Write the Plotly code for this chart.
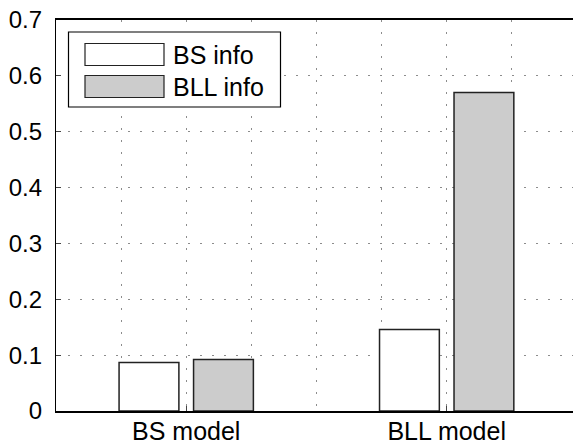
import plotly.graph_objects as go

# data
groups = [1, 2]
group_labels = ["BS model", "BLL model"]
bs_info = [0.087, 0.146]
bll_info = [0.092, 0.570]
y_ticks = [0, 0.1, 0.2, 0.3, 0.4, 0.5, 0.6, 0.7]

W, H = 573, 444
L, R, T, B = 56, 0, 20, 33


def px_x(p):
    return (p - L) / (W - L - R)


def px_y(p):
    return 1 - (p - T) / (H - T - B)


grid = dict(color="#8c8c8c", dash="2px,10px")

fig = go.Figure()
fig.add_trace(go.Bar(x=groups, y=bs_info, name="BS info",
                     marker=dict(color="white", line=dict(color="#222", width=1.5))))
fig.add_trace(go.Bar(x=groups, y=bll_info, name="BLL info",
                     marker=dict(color="#cccccc", line=dict(color="#222", width=1.5))))

# legend drawn by hand so the big MATLAB-style swatches fit
shapes = [
    dict(type="rect", xref="paper", yref="paper",
         x0=px_x(68.5), x1=px_x(280.5), y0=px_y(107), y1=px_y(32),
         line=dict(color="black", width=1.2), fillcolor="white", layer="above"),
    dict(type="rect", xref="paper", yref="paper",
         x0=px_x(85), x1=px_x(164), y0=px_y(65.5), y1=px_y(43.5),
         line=dict(color="#222", width=1.2), fillcolor="white", layer="above"),
    dict(type="rect", xref="paper", yref="paper",
         x0=px_x(85), x1=px_x(164), y0=px_y(97.5), y1=px_y(75.5),
         line=dict(color="#222", width=1.2), fillcolor="#cccccc", layer="above"),
]
annotations = [
    dict(text="BS info", xref="paper", yref="paper", x=px_x(171), y=px_y(54.5),
         xanchor="left", yanchor="middle", showarrow=False, font=dict(size=25)),
    dict(text="BLL info", xref="paper", yref="paper", x=px_x(171), y=px_y(86.5),
         xanchor="left", yanchor="middle", showarrow=False, font=dict(size=25)),
]

fig.update_layout(width=W, height=H,
                  margin=dict(l=L, r=R, t=T, b=B, autoexpand=False),
                  paper_bgcolor="white", plot_bgcolor="white",
                  font=dict(family="Liberation Sans, Arial", size=24, color="black"),
                  barmode="group", bargap=0.428, bargroupgap=0.197,
                  showlegend=False, shapes=shapes, annotations=annotations)

fig.update_xaxes(range=[0.5, 2.485], tickmode="array", tickvals=groups,
                 ticktext=group_labels, ticks="inside", ticklen=5,
                 tickfont=dict(size=25),
                 showline=True, linecolor="black", linewidth=1.5, mirror=True,
                 showgrid=True, gridcolor=grid["color"], griddash=grid["dash"],
                 zeroline=False, automargin=False, ticklabelstandoff=-3,
                 minor=dict(tick0=0.5, dtick=0.25, showgrid=True, ticks="",
                            gridcolor=grid["color"], griddash=grid["dash"]))
fig.update_yaxes(range=[0, 0.7], tickmode="array", tickvals=y_ticks,
                 ticktext=[f"{v:g}" for v in y_ticks], ticks="inside", ticklen=5,
                 showline=True, linecolor="black", linewidth=1.2,
                 showgrid=True, gridcolor=grid["color"], griddash=grid["dash"],
                 zeroline=False, automargin=False, ticklabelstandoff=8)

# the page's default body margin would shift the chart by 8px
fig.write_html("out.html", config={"displayModeBar": False},
               post_script="document.body.style.margin='0';")
